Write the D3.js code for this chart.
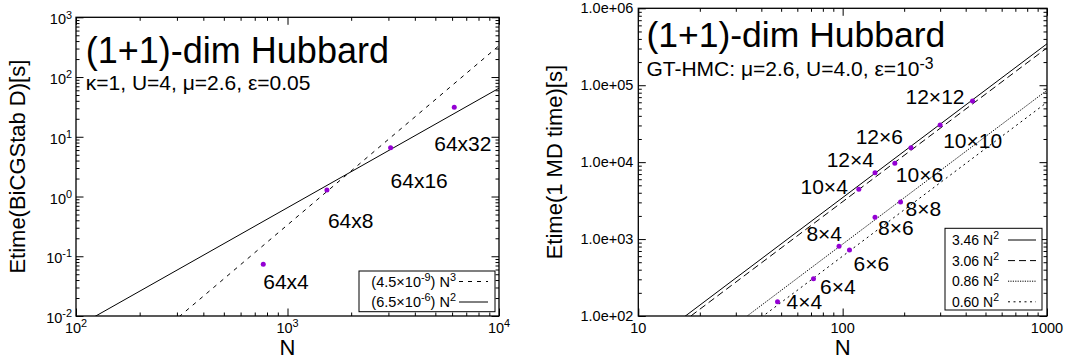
<!DOCTYPE html>
<html>
<head>
<meta charset="utf-8">
<script src="https://cdn.jsdelivr.net/npm/d3@7"></script>
<style>
  body { margin: 0; background: #fff; }
  svg { display: block; }
  text { font-family: "Liberation Sans", Arial, Helvetica, sans-serif; fill: #000; }
</style>
</head>
<body>
<svg id="chart" width="1070" height="363"></svg>
<script>
// ---------- Left panel: BiCGStab solve time on 64 x Nt lattices ----------
const leftLabels = ["64x4", "64x8", "64x16", "64x32"];
const leftN      = [768, 1536, 3072, 6144];
const leftTime   = [0.0733, 1.29, 6.56, 31.2];

// power-law fits: legend text pieces, power, and prefactor of the drawn curve in axis units
const leftFitMantissa  = ["4.5", "6.5"];
const leftFitExponent  = ["-9", "-6"];
const leftFitPower     = [3, 2];
const leftFitPrefactor = [3.35e-10, 6.5e-7];

const leftXTickExp = ["2", "3", "4"];
const leftYTickExp = ["-2", "-1", "0", "1", "2", "3"];

// ---------- Right panel: GT-HMC time per MD unit ----------
const rightLabels = ["4×4", "6×4", "8×4", "6×6", "10×4", "12×4", "8×6", "10×6", "8×8", "12×6", "10×10", "12×12"];
const rightN      = [48, 72, 96, 108, 120, 144, 144, 180, 192, 216, 300, 432];
const rightTime   = [153, 305, 804, 720, 4455, 7260, 1915, 9700, 3030, 15350, 30300, 62500];

const rightFitCoef      = ["3.46", "3.06", "0.86", "0.60"];
const rightFitPrefactor = [0.346, 0.306, 0.086, 0.060];

const rightXTickLabels = ["10", "100", "1000"];
const rightYTickLabels = ["1.0e+02", "1.0e+03", "1.0e+04", "1.0e+05", "1.0e+06"];

// ---------- layout & styling ----------
const POINT_COLOR = "#9400d3";
const leftBox  = { left: 76,    right: 499,  top: 17.3, bottom: 316 };
const rightBox = { left: 638.3, right: 1047, top: 8.3,  bottom: 316 };

const leftFitDash  = ["4,5", null];
const rightFitDash = [null, "7,4", "1.2,1.2", "2,3.5"];

// label placement relative to each point: [anchor, dx, dy]
const leftLabelPlace = [["start", 0, 25], ["start", 1, 38.5], ["start", 0, 40], ["start", -20, 43.7]];
const rightLabelPlace = [
  ["start", 9, 7.5], ["start", 6.5, 15], ["end", 3, -5], ["start", 4, 21],
  ["end", -11, 4.5], ["end", -1, -6], ["start", 3, 18], ["start", 1, 18.5],
  ["start", 5, 13.5], ["end", -8, -3.5], ["start", 3, 22.5], ["end", -8, 3.5]
];

const svg = d3.select("#chart");

// text with gnuplot-style superscripts; parts = [[string, isSup], ...]
function richText(parent, x, y, parts, size, anchor, riseFrac) {
  const t = parent.append("text")
    .attr("x", x).attr("y", y)
    .attr("font-size", size)
    .attr("text-anchor", anchor || "start");
  const rise = (riseFrac || 0.4) * size;
  let raised = false;
  parts.forEach(([s, sup]) => {
    const ts = t.append("tspan").text(s);
    if (sup && !raised) { ts.attr("dy", -rise); raised = true; }
    else if (!sup && raised) { ts.attr("dy", rise); raised = false; }
    if (sup) ts.attr("font-size", 0.75 * size);
  });
  return t;
}

const isDecade = v => Math.abs(Math.log10(v) - Math.round(Math.log10(v))) < 1e-6;

function drawFrame(g, x, y, box) {
  const xt = x.ticks(), yt = y.ticks();
  const xMaj = xt.filter(isDecade), xMin = xt.filter(v => !isDecade(v));
  const yMaj = yt.filter(isDecade), yMin = yt.filter(v => !isDecade(v));
  const MAJ = 7.5, MIN = 3.5;
  const sets = [
    [d3.axisBottom(x), `translate(0,${box.bottom})`, xMaj, xMin],
    [d3.axisTop(x),    `translate(0,${box.top})`,    xMaj, xMin],
    [d3.axisLeft(y),   `translate(${box.left},0)`,   yMaj, yMin],
    [d3.axisRight(y),  `translate(${box.right},0)`,  yMaj, yMin]
  ];
  sets.forEach(([axisFn, tr, maj, min]) => {
    [[maj, MAJ], [min, MIN]].forEach(([vals, len]) => {
      const ax = g.append("g").attr("transform", tr)
        .call(axisFn.tickValues(vals).tickSize(-len).tickSizeOuter(0).tickFormat(""));
      ax.select(".domain").remove();
      ax.selectAll("line").attr("stroke", "#000").attr("stroke-width", 1);
    });
  });
  g.append("rect")
    .attr("x", box.left).attr("y", box.top)
    .attr("width", box.right - box.left).attr("height", box.bottom - box.top)
    .attr("fill", "none").attr("stroke", "#000").attr("stroke-width", 1.3);
}

function drawFits(g, x, y, box, clipId, prefactors, powers, dashes) {
  g.append("clipPath").attr("id", clipId).append("rect")
    .attr("x", box.left).attr("y", box.top)
    .attr("width", box.right - box.left).attr("height", box.bottom - box.top);
  const [n0, n1] = x.domain();
  const line = d3.line().x(d => x(d[0])).y(d => y(d[1]));
  prefactors.forEach((c, i) => {
    const p = powers[i];
    const pts = [[n0, c * Math.pow(n0, p)], [n1, c * Math.pow(n1, p)]];
    g.append("path").attr("clip-path", `url(#${clipId})`)
      .attr("d", line(pts))
      .attr("fill", "none").attr("stroke", "#000").attr("stroke-width", 1)
      .attr("stroke-dasharray", dashes[i]);
  });
}

function drawPoints(g, x, y, ns, ts, labels, place) {
  ns.forEach((n, i) => {
    const px = x(n), py = y(ts[i]);
    g.append("circle").attr("cx", px).attr("cy", py).attr("r", 2.5).attr("fill", POINT_COLOR);
    const [anchor, dx, dy] = place[i];
    g.append("text").attr("x", px + dx).attr("y", py + dy)
      .attr("font-size", 21).attr("text-anchor", anchor).text(labels[i]);
  });
}

// ================= Left panel =================
{
  const box = leftBox;
  const x = d3.scaleLog().domain([1e2, 1e4]).range([box.left, box.right]);
  const y = d3.scaleLog().domain([1e-2, 1e3]).range([box.bottom, box.top]);
  const g = svg.append("g");

  drawFits(g, x, y, box, "clipL", leftFitPrefactor, leftFitPower, leftFitDash);
  drawFrame(g, x, y, box);
  drawPoints(g, x, y, leftN, leftTime, leftLabels, leftLabelPlace);

  x.ticks().filter(isDecade).forEach((v, i) => {
    richText(g, x(v), 333, [["10", false], [leftXTickExp[i], true]], 14.5, "middle");
  });
  y.ticks().filter(isDecade).forEach((v, i) => {
    richText(g, box.left - 4, y(v) + 7, [["10", false], [leftYTickExp[i], true]], 14.5, "end");
  });

  g.append("text").attr("x", 85.8).attr("y", 63).attr("font-size", 36).text("(1+1)-dim Hubbard");
  g.append("text").attr("x", 85.8).attr("y", 89.5).attr("font-size", 21).text("κ=1, U=4, μ=2.6, ε=0.05");

  g.append("text").attr("x", (box.left + box.right) / 2).attr("y", 355)
    .attr("font-size", 22).attr("text-anchor", "middle").text("N");
  g.append("text").attr("transform", `translate(24.5,${(box.top + box.bottom) / 2}) rotate(-90)`)
    .attr("font-size", 22).attr("text-anchor", "middle").text("Etime(BiCGStab D)[s]");

  // legend
  const lg = { left: 359, right: 495, top: 271, bottom: 311.7 };
  g.append("rect").attr("x", lg.left).attr("y", lg.top)
    .attr("width", lg.right - lg.left).attr("height", lg.bottom - lg.top)
    .attr("fill", "#fff").attr("stroke", "#000").attr("stroke-width", 1);
  leftFitMantissa.forEach((m, i) => {
    const cy = 281.5 + i * 20.5;
    richText(g, 456, cy + 5, [["(" + m + "×10", false], [leftFitExponent[i], true], [") N", false], [String(leftFitPower[i]), true]], 14.5, "end");
    g.append("line").attr("x1", 459).attr("x2", 488).attr("y1", cy).attr("y2", cy)
      .attr("stroke", "#000").attr("stroke-width", 1).attr("stroke-dasharray", leftFitDash[i]);
  });
}

// ================= Right panel =================
{
  const box = rightBox;
  const x = d3.scaleLog().domain([10, 1000]).range([box.left, box.right]);
  const y = d3.scaleLog().domain([1e2, 1e6]).range([box.bottom, box.top]);
  const g = svg.append("g");

  drawFits(g, x, y, box, "clipR", rightFitPrefactor, rightFitPrefactor.map(() => 2), rightFitDash);
  drawFrame(g, x, y, box);
  drawPoints(g, x, y, rightN, rightTime, rightLabels, rightLabelPlace);

  x.ticks().filter(isDecade).forEach((v, i) => {
    g.append("text").attr("x", x(v)).attr("y", 333).attr("font-size", 14.5)
      .attr("text-anchor", "middle").text(rightXTickLabels[i]);
  });
  y.ticks().filter(isDecade).forEach((v, i) => {
    g.append("text").attr("x", box.left - 5).attr("y", y(v) + 5).attr("font-size", 14.5)
      .attr("text-anchor", "end").text(rightYTickLabels[i]);
  });

  g.append("text").attr("x", 646.4).attr("y", 47).attr("font-size", 35.5).text("(1+1)-dim Hubbard");
  richText(g, 646.4, 75.5, [["GT-HMC: μ=2.6, U=4.0, ε=10", false], ["-3", true]], 21, "start", 0.3);

  g.append("text").attr("x", (box.left + box.right) / 2).attr("y", 355)
    .attr("font-size", 22).attr("text-anchor", "middle").text("N");
  g.append("text").attr("transform", `translate(562,${(box.top + box.bottom) / 2}) rotate(-90)`)
    .attr("font-size", 22).attr("text-anchor", "middle").text("Etime(1 MD time)[s]");

  // legend
  const lg = { left: 945, right: 1042, top: 228.3, bottom: 310 };
  g.append("rect").attr("x", lg.left).attr("y", lg.top)
    .attr("width", lg.right - lg.left).attr("height", lg.bottom - lg.top)
    .attr("fill", "#fff").attr("stroke", "#000").attr("stroke-width", 1);
  rightFitCoef.forEach((c, i) => {
    const cy = 240 + i * 20.6;
    richText(g, 999, cy + 5, [[c + " N", false], ["2", true]], 14, "end");
    g.append("line").attr("x1", 1008).attr("x2", 1036).attr("y1", cy).attr("y2", cy)
      .attr("stroke", "#000").attr("stroke-width", 1).attr("stroke-dasharray", rightFitDash[i]);
  });
}
</script>
</body>
</html>
